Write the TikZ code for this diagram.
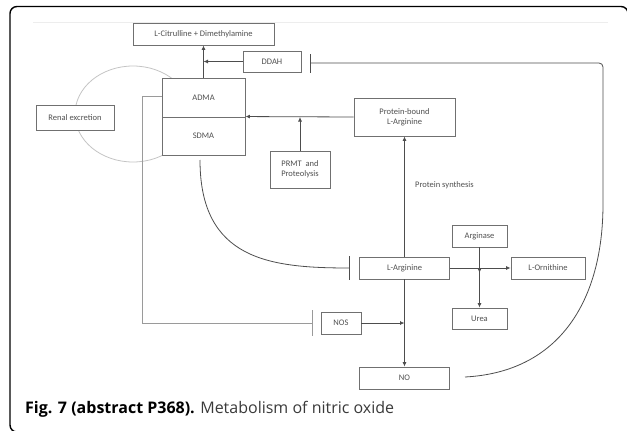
\documentclass[tikz,border=0pt]{standalone}
\usepackage{fontspec}
\setmainfont{Carlito}
\newfontfamily\capfont{Open Sans}
\usetikzlibrary{arrows.meta,positioning}
\definecolor{metLine}{HTML}{4D4D4D}
\definecolor{metBox}{HTML}{707070}
\definecolor{metText}{HTML}{505050}
\definecolor{metSoft}{HTML}{9A9A9A}
\definecolor{metFaint}{HTML}{C4C4C4}
\definecolor{metCap}{HTML}{3A3A3A}

\begin{document}
\begin{tikzpicture}[x=1pt,y=-1pt,
  font=\fontsize{8.5}{10}\selectfont,
  box/.style={draw=metBox, fill=white, line width=0.9pt, align=center, text=metText, inner sep=0pt},
  arrow/.style={-{Latex[length=4.5pt,width=4pt]}, metLine, line width=0.8pt},
  inhib/.style={-{Bar[width=#1]}, metLine, line width=0.8pt},
  inhib/.default=22pt
]
\useasboundingbox (0,0) rectangle (627,431);

% frame and faint rule of the figure panel
\draw[line width=1.4pt, rounded corners=7pt] (628,12) -- (628,6.5) -- (10,6.5) -- (10,432) -- (628,432);
\draw[black!7, line width=1pt] (33,22) -- (608,22);

% renal loop (behind the boxes)
\draw[metFaint, line width=0.8pt] (133,114) ellipse [x radius=58pt, y radius=48pt];

% nodes
\node[box, minimum width=141pt, minimum height=22pt] (cit) at (203.5,34) {L-Citrulline + Dimethylamine};
\node[box, minimum width=58pt, minimum height=21pt] (ddah) at (272,61.5) {DDAH};
\node[box, minimum width=83pt, minimum height=39pt] (adma) at (203.5,97.5) {ADMA};
\node[box, minimum width=83pt, minimum height=38pt] (sdma) at (203.5,136) {SDMA};
\node[box, minimum width=78pt, minimum height=25pt] (renal) at (75,117.5) {Renal excretion};
\node[box, minimum width=60pt, minimum height=37pt] (prmt) at (300,169.5) {PRMT \ and\\Proteolysis};
\node[box, minimum width=101pt, minimum height=38pt] (pbound) at (404.5,117) {Protein-bound\\L-Arginine};
\node[text=metText, anchor=west, inner sep=0pt] (synth) at (415,185) {Protein synthesis};
\node[box, minimum width=90pt, minimum height=22pt] (larg) at (404.5,268) {L-Arginine};
\node[box, minimum width=55pt, minimum height=22pt] (argi) at (479.5,236) {Arginase};
\node[box, minimum width=74pt, minimum height=22pt] (orni) at (548,268) {L-Ornithine};
\node[box, minimum width=55pt, minimum height=21pt] (urea) at (479.5,318.5) {Urea};
\node[box, minimum width=40pt, minimum height=22pt] (nos) at (341,323) {NOS};
\node[box, minimum width=90pt, minimum height=22pt] (no) at (404.5,378) {NO};

% junctions and free ends
\coordinate (jd) at (adma.north |- ddah.west);
\coordinate (jp) at (prmt.north |- pbound.west);
\coordinate (jn) at (larg.south |- nos.east);
\coordinate (ja) at (argi.south |- larg.east);
\coordinate (noout) at (465,377);
\coordinate (sdmaout) at (200,160);

% connectors
\draw[arrow] (adma.north) -- (cit.south);
\draw[arrow] (ddah.west) -- (jd);
\draw[arrow] (pbound.west) -- (sdma.north east);
\draw[arrow] (prmt.north) -- (jp);
\draw[arrow] (larg.north) -- (pbound.south);
\draw[arrow] (larg.south) -- (no.north);
\draw[arrow] (nos.east) -- (jn);
\draw[arrow] (larg.east) -- (orni.west);
\draw[arrow] (argi.south) -- ([yshift=-5pt]ja);
\draw[arrow] (ja) -- (urea.north);

% inhibitions
\draw[inhib=19pt, rounded corners=4pt] (noout) .. controls (560,372) and (603,300) .. (603,200) -- (603,63) -- ([xshift=9pt]ddah.east |- 0,63);
\draw[inhib=24pt] (sdmaout) .. controls (200,260) and (270,268) .. ([xshift=-9pt]larg.west);
\draw[inhib=26pt, metSoft] (adma.west |- 0,96) -- (142,96) |- ([xshift=-8pt]nos.west);

% caption
\node[anchor=base west, inner sep=0pt, text=metCap, font=\capfont\fontsize{16}{19}\selectfont] (caption) at (25,413)
  {\textbf{\color{black}Fig. 7 (abstract P368).} Metabolism of nitric oxide};
\end{tikzpicture}
\end{document}
